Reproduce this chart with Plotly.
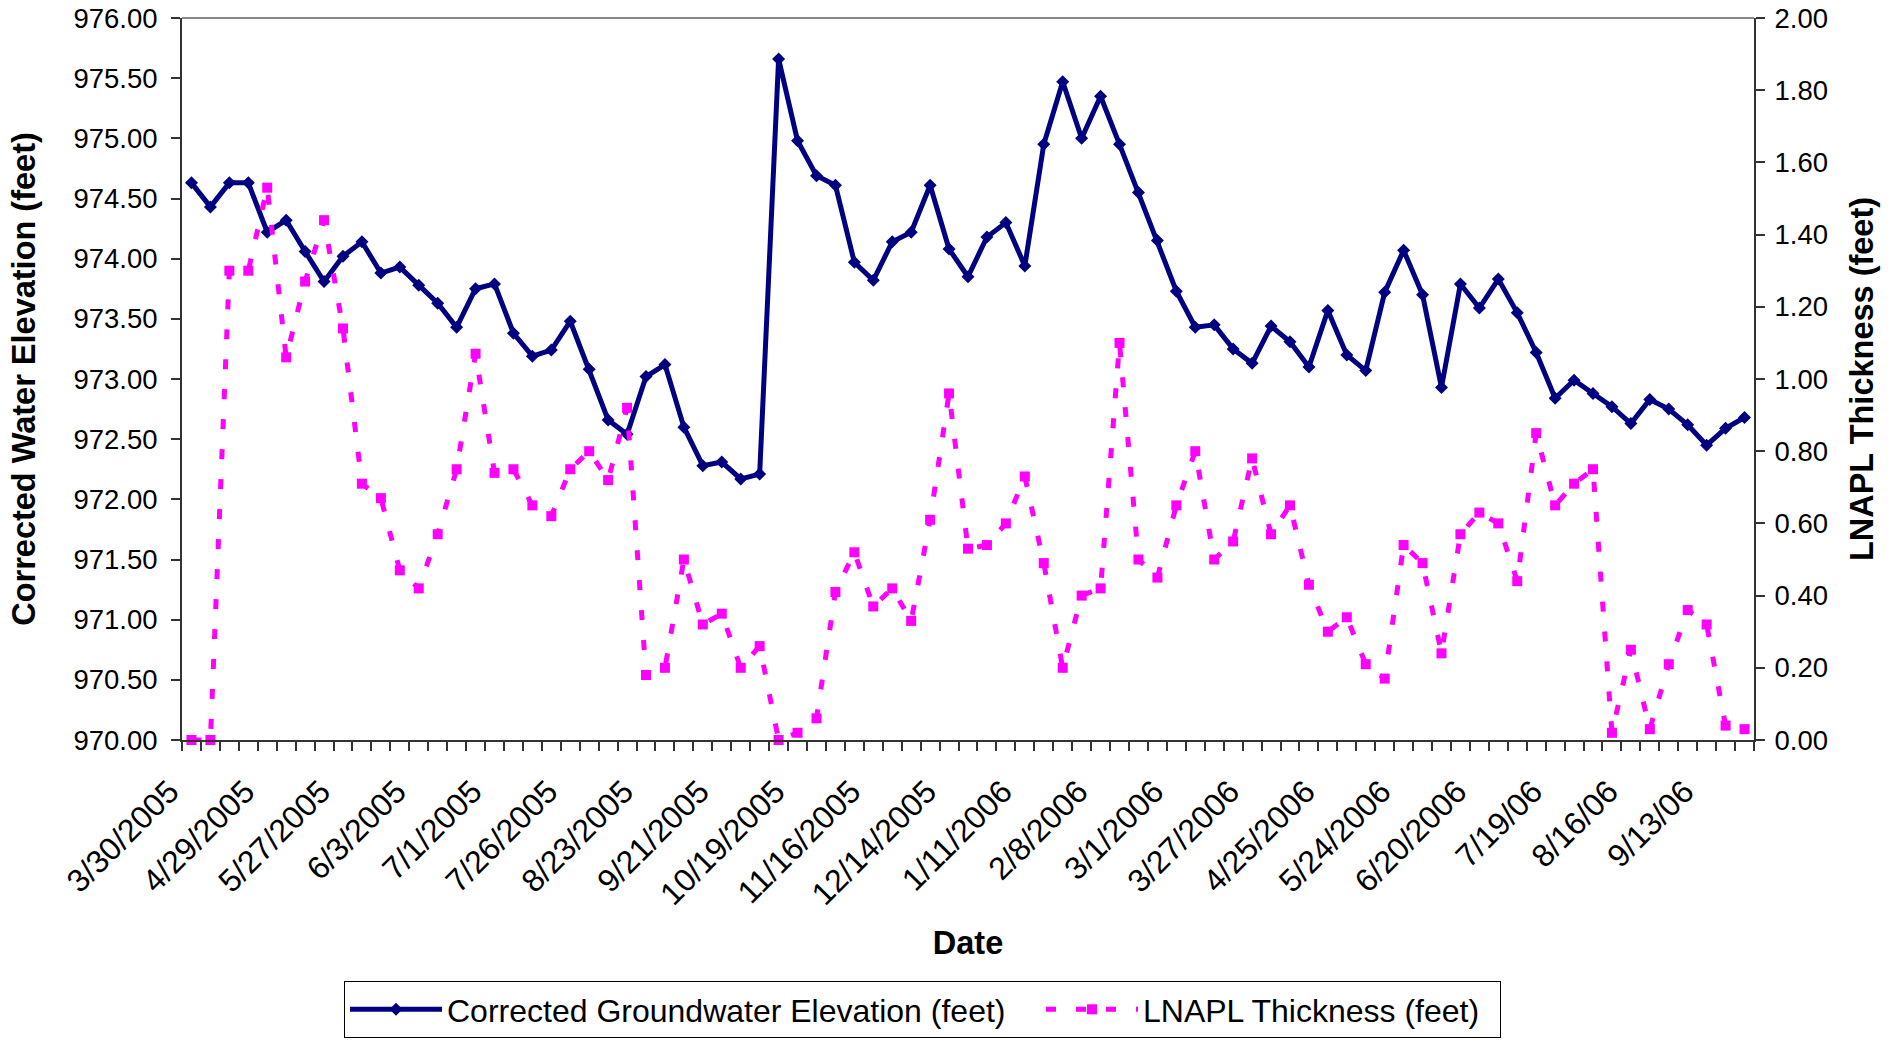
import plotly.graph_objects as go

# ---- data ----
tick_labels = ["3/30/2005", "4/29/2005", "5/27/2005", "6/3/2005", "7/1/2005", "7/26/2005",
               "8/23/2005", "9/21/2005", "10/19/2005", "11/16/2005", "12/14/2005", "1/11/2006",
               "2/8/2006", "3/1/2006", "3/27/2006", "4/25/2006", "5/24/2006", "6/20/2006",
               "7/19/06", "8/16/06", "9/13/06"]
label_every = 4

elevation = [974.63, 974.43, 974.63, 974.63, 974.22, 974.32, 974.06, 973.81, 974.02, 974.14,
             973.88, 973.93, 973.78, 973.63, 973.43, 973.75, 973.79, 973.38, 973.19, 973.24,
             973.48, 973.08, 972.66, 972.54, 973.02, 973.12, 972.60, 972.28, 972.31, 972.17,
             972.21, 975.66, 974.98, 974.69, 974.61, 973.97, 973.82, 974.14, 974.22, 974.61,
             974.08, 973.85, 974.18, 974.30, 973.94, 974.95, 975.47, 975.00, 975.35, 974.95,
             974.55, 974.15, 973.73, 973.43, 973.45, 973.25, 973.13, 973.44, 973.31, 973.10,
             973.57, 973.20, 973.07, 973.72, 974.07, 973.70, 972.93, 973.79, 973.59, 973.83,
             973.55, 973.22, 972.84, 972.99, 972.88, 972.77, 972.63, 972.83, 972.75, 972.62,
             972.45, 972.59, 972.68]

lnapl = [0.00, 0.00, 1.30, 1.30, 1.53, 1.06, 1.27, 1.44, 1.14, 0.71,
         0.67, 0.47, 0.42, 0.57, 0.75, 1.07, 0.74, 0.75, 0.65, 0.62,
         0.75, 0.80, 0.72, 0.92, 0.18, 0.20, 0.50, 0.32, 0.35, 0.20,
         0.26, 0.00, 0.02, 0.06, 0.41, 0.52, 0.37, 0.42, 0.33, 0.61,
         0.96, 0.53, 0.54, 0.60, 0.73, 0.49, 0.20, 0.40, 0.42, 1.10,
         0.50, 0.45, 0.65, 0.80, 0.50, 0.55, 0.78, 0.57, 0.65, 0.43,
         0.30, 0.34, 0.21, 0.17, 0.54, 0.49, 0.24, 0.57, 0.63, 0.60,
         0.44, 0.85, 0.65, 0.71, 0.75, 0.02, 0.25, 0.03, 0.21, 0.36,
         0.32, 0.04, 0.03]

n = len(elevation)
x = list(range(n))
tick_positions = [i * label_every for i in range(len(tick_labels))]

FONT = "Arial, Liberation Sans, sans-serif"
AXIS_COLOR = "#333333"
TITLE_SIZE = 32.5

FIG_W, FIG_H = 1900, 1040

fig = go.Figure()
fig.add_trace(go.Scatter(
    x=x, y=elevation, name="Corrected Groundwater Elevation (feet)",
    mode="lines+markers",
    line=dict(color="#000080", width=5),
    marker=dict(symbol="diamond", size=10, color="#000080"),
    cliponaxis=False, legendwidth=589,
))
fig.add_trace(go.Scatter(
    x=x, y=lnapl, name="LNAPL Thickness (feet)", yaxis="y2",
    mode="lines+markers",
    line=dict(color="#FF00FF", width=5, dash="10px,20px"),
    marker=dict(symbol="square", size=10, color="#FF00FF"),
    cliponaxis=False, legendwidth=352,
))

fig.update_layout(
    width=FIG_W, height=FIG_H,
    margin=dict(l=182, r=146, t=18, b=300),
    paper_bgcolor="white", plot_bgcolor="white",
    font=dict(family=FONT, color="black", size=27.5),
    showlegend=True,
    legend=dict(orientation="h", xref="container", yref="container",
                x=344 / FIG_W, xanchor="left", y=(FIG_H - 981) / FIG_H, yanchor="top",
                bordercolor="black", borderwidth=1, font=dict(size=32),
                itemwidth=92, tracegroupgap=0),
    xaxis=dict(
        range=[-0.5, n - 0.5], showgrid=False, zeroline=False, automargin=False,
        showline=True, linecolor=AXIS_COLOR, linewidth=2,
        tickmode="array", tickvals=tick_positions, ticktext=tick_labels,
        tickangle=-45, ticks="", tickfont=dict(size=32), ticklabelstandoff=18,
        ticklabelshift=-22, ticklabeloverflow="allow",
        minor=dict(ticks="outside", tick0=-0.5, dtick=1, ticklen=9,
                   tickcolor=AXIS_COLOR, tickwidth=1.5, showgrid=False),
        title=dict(text="<b>Date</b>", font=dict(size=TITLE_SIZE), standoff=20),
    ),
    yaxis=dict(
        range=[970, 976], dtick=0.5, tickformat=".2f", showgrid=False, zeroline=False,
        automargin=False, ticklabelstandoff=8, ticklabeloverflow="allow",
        showline=True, linecolor=AXIS_COLOR, linewidth=2,
        ticks="outside", ticklen=9, tickcolor=AXIS_COLOR, tickwidth=1.5,
        title=dict(text="<b>Corrected Water Elevation (feet)</b>", font=dict(size=TITLE_SIZE), standoff=28),
    ),
    yaxis2=dict(
        range=[0, 2], dtick=0.2, tickformat=".2f", showgrid=False, zeroline=False,
        overlaying="y", side="right", automargin=False, ticklabelstandoff=4,
        ticklabeloverflow="allow",
        showline=True, linecolor=AXIS_COLOR, linewidth=2,
        ticks="outside", ticklen=9, tickcolor=AXIS_COLOR, tickwidth=1.5,
        title=dict(text="<b>LNAPL Thickness (feet)</b>", font=dict(size=TITLE_SIZE), standoff=23),
    ),
    shapes=[dict(type="line", xref="paper", yref="paper", x0=0, x1=1, y0=1, y1=1,
                 line=dict(color="#888888", width=2))],
)

# remove the default 8px page margin so the 1900x1040 figure fills the window exactly
fig.write_html("out.html", config={"displayModeBar": False},
               post_script="document.body.style.margin='0';")
